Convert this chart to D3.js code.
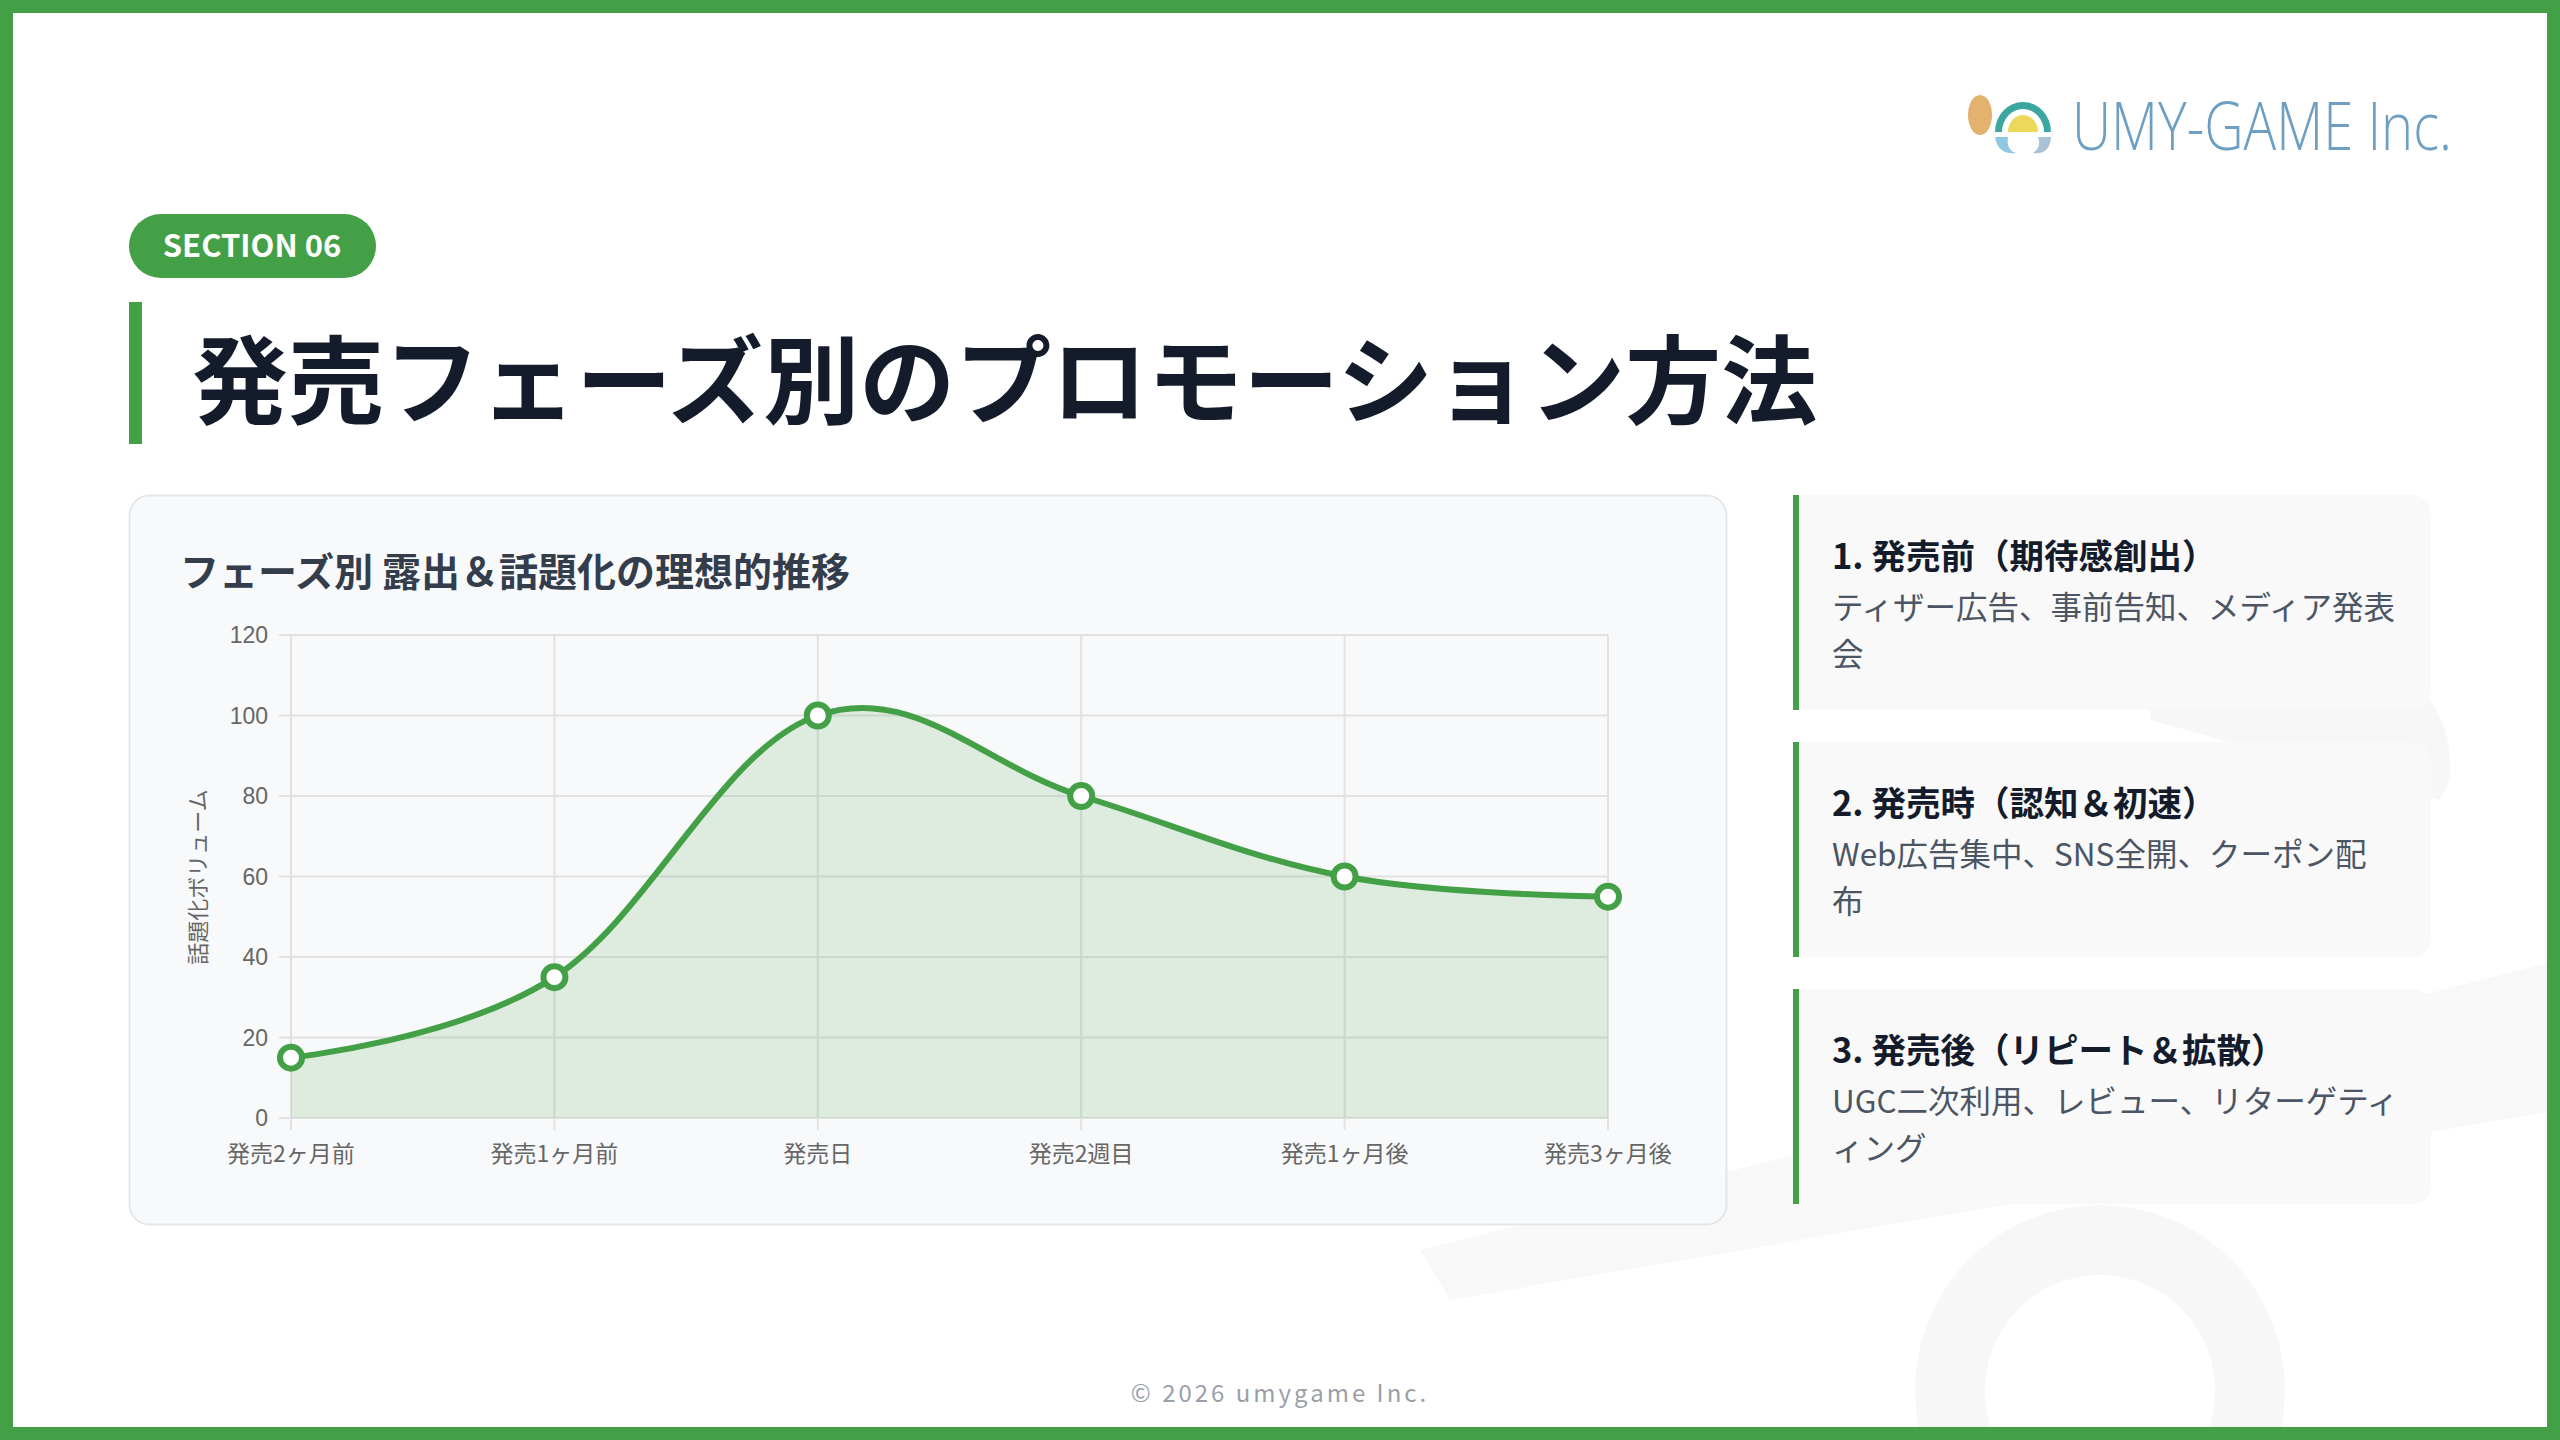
<!DOCTYPE html>
<html><head><meta charset="utf-8">
<script src="https://cdn.jsdelivr.net/npm/d3@7"></script>
<style>
body{margin:0;background:#fff;font-family:"Noto Sans CJK JP","Noto Sans",sans-serif;}
svg{display:block}
</style></head><body>
<svg id="c" width="2560" height="1440"></svg>
<script>
const categories=["発売2ヶ月前","発売1ヶ月前","発売日","発売2週目","発売1ヶ月後","発売3ヶ月後"];
const values=[15,35,100,80,60,55];
const yTicks=[0,20,40,60,80,100,120];
const cards=[
 {h:"1. 発売前（期待感創出）",b:["ティザー広告、事前告知、メディア発表","会"]},
 {h:"2. 発売時（認知＆初速）",b:["Web広告集中、SNS全開、クーポン配","布"]},
 {h:"3. 発売後（リピート＆拡散）",b:["UGC二次利用、レビュー、リターゲティ","ィング"]}
];
const svg=d3.select("#c");
const G="#43a047";
// watermark
svg.append("path").attr("d","M1420 1250 L2560 960 L2560 1110 L1450 1300 Z").attr("fill","#f8f8f8");
svg.append("circle").attr("cx",2100).attr("cy",1390).attr("r",150).attr("fill","none").attr("stroke","#f7f7f7").attr("stroke-width",70);
svg.append("path").attr("d","M2150 700 Q2460 600 2450 780 L2440 800 L2150 720 Z").attr("fill","#f7f7f7");
// border
svg.append("rect").attr("x",6.5).attr("y",6.5).attr("width",2547).attr("height",1427).attr("fill","none").attr("stroke",G).attr("stroke-width",13);
// logo
const lg=svg.append("g").attr("transform","translate(1968,95)");
lg.append("ellipse").attr("cx",12).attr("cy",20).attr("rx",12).attr("ry",20).attr("fill","#e4b26f");
lg.append("path").attr("d","M27 37 A28 30 0 0 1 83 37 L76 37 A21 23 0 0 0 34 37 Z").attr("fill","#3aa7a0");
lg.append("path").attr("d","M40 37 A15 17 0 0 1 70 37 Z").attr("fill","#ecd85a");
lg.append("path").attr("d","M27 42 L40 42 Q38 55 48 58 Q30 60 27 42Z").attr("fill","#8ec8e0");
lg.append("path").attr("d","M70 42 L83 42 Q82 60 65 58 Q74 52 70 42Z").attr("fill","#aac2d6");
svg.append("text").attr("x",2072).attr("y",150).attr("font-family","'Open Sans','Noto Sans',sans-serif").attr("font-weight",300).attr("font-size",66).attr("fill","#6e9fc3").attr("textLength",380).attr("lengthAdjust","spacingAndGlyphs").text("UMY-GAME Inc.");
// section pill
svg.append("rect").attr("x",129).attr("y",214).attr("width",247).attr("height",64).attr("rx",32).attr("fill",G);
svg.append("text").attr("x",252).attr("y",257).attr("text-anchor","middle").attr("fill","#fff").attr("font-weight",700).attr("font-size",31).text("SECTION 06");
// title
svg.append("rect").attr("x",129).attr("y",302).attr("width",13).attr("height",142).attr("fill",G);
svg.append("text").attr("x",192).attr("y",416).attr("font-weight",700).attr("font-size",96).attr("fill","#141c2b").text("発売フェーズ別のプロモーション方法");
// chart card
svg.append("rect").attr("x",129.5).attr("y",495.5).attr("width",1597).attr("height",729).attr("rx",20).attr("fill","#f8f9fa").attr("stroke","#e3e6ea").attr("stroke-width",2);
svg.append("text").attr("x",180).attr("y",586).attr("font-weight",700).attr("font-size",39).attr("fill","#333d4b").text("フェーズ別 露出＆話題化の理想的推移");
const x=d3.scalePoint().domain(categories).range([291,1608]);
const y=d3.scaleLinear().domain([0,120]).range([1118,635]);
const grid=svg.append("g");
yTicks.forEach(t=>{grid.append("line").attr("x1",279).attr("x2",1608).attr("y1",y(t)).attr("y2",y(t)).attr("stroke","#e2e2e2").attr("stroke-width",2);
 grid.append("text").attr("x",268).attr("y",y(t)+8).attr("text-anchor","end").attr("font-family","'Liberation Sans',Arial,sans-serif").attr("font-size",23).attr("fill","#666").text(t);});
categories.forEach(c=>{grid.append("line").attr("x1",x(c)).attr("x2",x(c)).attr("y1",635).attr("y2",1130).attr("stroke","#e2e2e2").attr("stroke-width",2);
 grid.append("text").attr("x",x(c)).attr("y",1162).attr("text-anchor","middle").attr("font-size",23).attr("fill","#666").text(c);});
svg.append("text").attr("transform","translate(206,877) rotate(-90)").attr("text-anchor","middle").attr("font-size",22).attr("fill","#666").text("話題化ボリューム");
const curve=d3.curveCardinal.tension(-0.1);
const pts=values.map((v,i)=>[x(categories[i]),y(v)]);
svg.append("path").attr("d",d3.area().x(d=>d[0]).y0(y(0)).y1(d=>d[1]).curve(curve)(pts)).attr("fill","rgba(67,160,71,0.15)");
svg.append("path").attr("d",d3.line().curve(curve)(pts)).attr("fill","none").attr("stroke",G).attr("stroke-width",6);
svg.selectAll(".pt").data(pts).enter().append("circle").attr("cx",d=>d[0]).attr("cy",d=>d[1]).attr("r",11).attr("fill","#fff").attr("stroke",G).attr("stroke-width",6);
// cards
cards.forEach((c,i)=>{const top=495+i*247;
 svg.append("path").attr("d",`M1793 ${top} H2411 Q2431 ${top} 2431 ${top+20} V${top+195} Q2431 ${top+215} 2411 ${top+215} H1793 Z`).attr("fill","#f8f9fa").attr("opacity",0.92);
 svg.append("rect").attr("x",1793).attr("y",top).attr("width",6).attr("height",215).attr("fill",G);
 svg.append("text").attr("x",1832).attr("y",top+74).attr("font-weight",700).attr("font-size",34.5).attr("fill","#141c2b").text(c.h);
 c.b.forEach((l,j)=>svg.append("text").attr("x",1832).attr("y",top+124+j*47).attr("font-size",31.5).attr("fill","#4b5563").text(l));
});
svg.append("text").attr("x",1280).attr("y",1402).attr("text-anchor","middle").attr("font-size",24).attr("letter-spacing",3).attr("fill","#9aa0a6").text("© 2026 umygame Inc.");
</script></body></html>
